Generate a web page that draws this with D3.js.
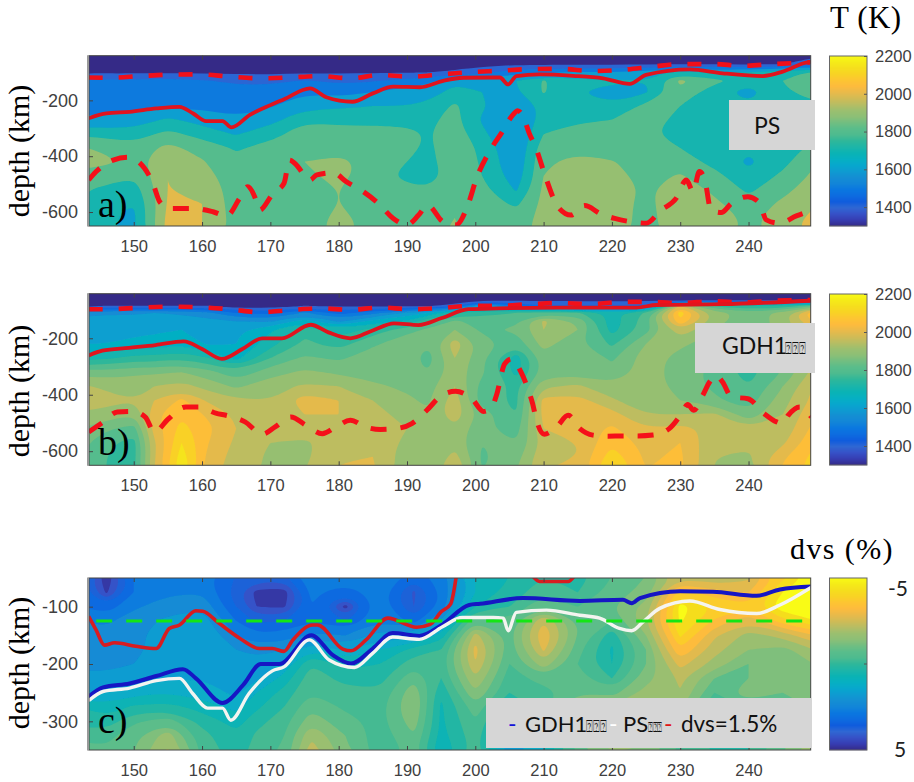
<!DOCTYPE html>
<html><head><meta charset="utf-8">
<script src="https://cdn.jsdelivr.net/npm/d3@7"></script>
<style>html,body{margin:0;background:#fff}svg{display:block}</style></head>
<body><svg id="c" width="914" height="782"></svg>
<script>
// parula colormap stops
const parula=["#352a87","#363db2","#3651c7","#2f67d3","#0f5cdd","#0d6ce0","#0a77e0","#1285d8","#148ed3","#0e9bd1","#07a7cd","#06b0c2","#0ab3b4","#1db5a8","#2eb79a","#4dbb8f","#59bd8b","#71be81","#8cbf76","#9bbf6f","#b7bd63","#d1bb55","#e9ba4a","#fdbb3d","#fdc532","#f8d324","#f5de1d","#f5eb18","#f9fb15"];

const xTicks=[150,160,170,180,190,200,210,220,230,240];
const yTicksT=[200,400,600];
const yTicksV=[100,200,300];
const barTicksT=[1400,1600,1800,2000,2200];

const lonsA=[142,146,150,155,160,165,170,175,180,185,190,193,197,201,206,210,215,220,225,230,235,240,245,251];
const depthsA=[30,70,100,130,170,220,270,320,370,420,470,520,570,620,670];
const tempA=[
[1300,1340,1385,1530,1570,1580,1610,1790,1910,1930,1880,1810,1800,1790,1790],
[1300,1340,1385,1520,1560,1570,1620,1760,1880,1920,1840,1780,1730,1710,1710],
[1300,1340,1385,1520,1560,1570,1640,1750,1840,1860,1810,1750,1700,1680,1690],
[1300,1340,1385,1540,1570,1580,1720,1830,1930,1970,2000,2000,2010,2030,2040],
[1300,1340,1385,1510,1550,1580,1660,1760,1860,1910,1950,1990,2000,2000,2000],
[1300,1340,1380,1480,1540,1570,1610,1690,1790,1820,1830,1840,1850,1860,1860],
[1300,1340,1380,1470,1560,1590,1660,1770,1830,1840,1850,1850,1860,1860,1860],
[1300,1340,1385,1510,1590,1660,1790,1840,1890,1900,1880,1860,1850,1840,1840],
[1300,1340,1390,1480,1560,1680,1780,1830,1870,1920,1930,1900,1900,1930,1940],
[1300,1340,1390,1490,1600,1700,1780,1830,1860,1870,1850,1850,1850,1860,1860],
[1300,1340,1395,1540,1640,1700,1760,1840,1850,1800,1770,1830,1860,1860,1860],
[1300,1340,1400,1570,1670,1720,1780,1790,1770,1750,1730,1820,1850,1870,1880],
[1320,1350,1420,1690,1720,1820,1830,1860,1890,1900,1880,1860,1880,1900,1910],
[1320,1360,1480,1680,1700,1710,1690,1720,1770,1780,1800,1830,1850,1850,1860],
[1340,1380,1560,1700,1690,1640,1600,1600,1610,1620,1640,1690,1780,1850,1870],
[1340,1380,1580,1810,1810,1720,1740,1800,1860,1890,1900,1920,1930,1930,1930],
[1350,1380,1620,1720,1700,1800,1790,1830,1880,1920,1900,1910,1930,1950,1950],
[1340,1385,1600,1720,1660,1710,1800,1840,1830,1910,1930,1960,1950,1960,1960],
[1320,1385,1650,1700,1690,1830,1850,1830,1830,1830,1870,1880,1870,1860,1850],
[1320,1390,1750,1920,1880,1800,1770,1740,1800,1850,1910,1960,1980,1980,1980],
[1320,1390,1700,1830,1740,1750,1720,1710,1720,1770,1830,1880,1920,1970,1980],
[1320,1385,1700,1750,1660,1720,1730,1730,1720,1680,1730,1780,1840,1870,1870],
[1330,1395,1780,1800,1780,1770,1750,1740,1750,1770,1820,1870,1920,1950,1960],
[1380,1480,1820,1900,1880,1790,1780,1800,1850,1920,1950,1980,2010,2050,2060]];

const lonsB=[142,146,150,153,157,161,165,170,175,180,185,190,193,197,201,206,210,215,220,225,230,235,240,245,251];
const depthsB=[35,65,85,110,140,170,220,270,320,370,420,470,520,570,620,670];
const tempB=[
[1300,1340,1390,1580,1620,1640,1650,1730,1880,1960,2010,1940,1900,1870,1860,1860],
[1300,1340,1400,1590,1630,1640,1650,1740,1870,1940,1970,1930,1860,1810,1800,1800],
[1300,1340,1400,1590,1630,1640,1660,1770,1890,1930,1950,1900,1830,1780,1780,1790],
[1300,1340,1400,1600,1630,1640,1670,1770,1890,1950,2000,2040,2020,1990,1990,2000],
[1300,1340,1400,1590,1630,1650,1690,1790,1900,1970,2060,2090,2120,2150,2180,2195],
[1300,1340,1400,1560,1620,1640,1640,1750,1870,1930,1990,2040,2060,2050,2030,2020],
[1300,1340,1360,1500,1600,1640,1650,1680,1810,1890,1960,1990,2000,1990,1980,1980],
[1300,1340,1370,1480,1590,1690,1730,1800,1880,1930,1950,1980,1980,1950,1940,1940],
[1300,1340,1400,1560,1680,1790,1810,1860,1910,1960,2030,2000,1980,1940,1940,1950],
[1300,1340,1390,1480,1590,1720,1780,1840,1890,1950,2000,2000,1990,1980,1990,2010],
[1300,1340,1390,1530,1670,1770,1840,1880,1880,1910,1950,1960,1970,1980,2000,2010],
[1300,1340,1380,1610,1710,1830,1890,1880,1880,1890,1910,1940,1950,1940,1920,1920],
[1300,1340,1390,1650,1790,1860,1860,1820,1850,1880,1890,1910,1930,1920,1900,1900],
[1310,1350,1430,1750,1860,1900,1980,1950,1930,1950,1980,1980,1940,1930,1970,2010],
[1320,1390,1640,1780,1830,1840,1880,1860,1860,1830,1820,1880,1860,1850,1840,1850],
[1320,1390,1500,1800,1840,1860,1820,1720,1730,1790,1790,1800,1830,1850,1880,1900],
[1330,1390,1450,1830,1960,1950,1920,1880,1870,1940,2020,2020,2000,1970,1990,2000],
[1330,1390,1450,1810,1890,1900,1860,1900,1880,1960,2020,2030,2020,2000,2000,2010],
[1330,1390,1450,1730,1720,1730,1790,1840,1870,1910,1960,2020,2060,2090,2130,2170],
[1330,1390,1450,1810,1830,1830,1900,1930,1920,1930,1910,1950,2000,2030,2040,2050],
[1340,1395,2000,2130,2090,1990,1910,1880,1880,1880,1900,1950,2020,2050,2060,2060],
[1340,1395,1790,1930,1920,1900,1880,1850,1830,1840,1860,1960,1980,1960,1950,1950],
[1340,1395,1750,1870,1870,1860,1840,1770,1780,1800,1820,1870,1950,1960,1940,1930],
[1340,1395,1750,1920,1920,1920,1880,1860,1850,1900,1930,1950,1960,1990,2040,2060],
[1340,1395,1900,2180,2100,2030,1950,1980,2000,2040,2040,2070,2100,2120,2140,2150]];

const lonsC=[142,146,150,155,160,165,168,172,176,181,186,191,195,200,205,210,215,220,225,230,235,240,245,251];
const depthsC=[45,75,100,125,150,175,200,225,250,275,300,325,360];
const dvsC=[
[3,3,3,2.5,2.3,2.2,2.1,1.9,1.5,0.5,0.2,-0.3,-1],
[5,4.6,3.3,2.6,2.3,2.2,2.1,1.9,1.5,0.8,0.3,-0.3,-0.7],
[3,3,2.6,2.2,2.1,2.1,2,1.7,1.2,0.4,-0.4,-0.9,-1],
[2.8,2.6,2.2,1.9,1.8,1.8,1.8,1.6,1,0.3,-0.8,-1.8,-2.2],
[2.8,2.5,2.1,1.7,1.5,1.5,1.5,1.5,1.3,0.7,0.2,-0.2,-0.4],
[3.5,3.8,3.5,3,2.5,2,1.9,1.8,1.6,1.2,0.7,0.4,0.3],
[3.5,4.7,4.5,3.6,2.9,2.2,1.8,1.6,1,0.6,0.2,-0.1,-0.3],
[3.5,4.8,4.6,3.5,2.8,2,1.4,0.8,0.3,0,-0.3,-0.5,-0.6],
[2.6,2.9,3,3,2.4,1,0,-0.3,-0.5,-0.9,-1.3,-2,-2.3],
[2.5,3.3,4.7,3.5,2.5,1.6,0.7,0.2,-0.2,-0.4,-0.7,-1,-1.2],
[2.5,2.7,2.6,2.5,1.8,1,0.5,0.2,-0.1,-0.3,-0.3,-0.2,-0.2],
[3.2,4.1,4,3.2,1.8,0.3,-0.3,-0.9,-1.4,-1.5,-1.3,-1,-0.6],
[2.8,2.9,2.8,1.9,0.8,0,-0.2,0,0.4,0.6,0.6,0.7,1],
[1,1,0.5,-1,-2.2,-2.7,-2.5,-2,-1.5,-0.8,-0.5,-0.3,-0.2],
[0.5,0.3,0,-0.6,-0.8,-0.7,-0.5,-0.2,0,0.6,1.2,1.7,1.9],
[0,-0.3,-1,-2.5,-3,-2.6,-1.8,-0.8,-0.2,-0.3,0.3,0.8,1.2],
[0.3,0,-0.5,-1,-1,-0.7,-0.5,-0.7,-1,-1.5,-1.6,-1,-0.5],
[-0.5,-0.7,-1,-0.5,0.3,0.6,0.5,0,-0.8,-1.6,-2,-2,-1.5],
[-1,-1.2,-1.7,-2,-1.5,-1,-1,-1.3,-1.7,-2,-2,-1.7,-1.2],
[-2.2,-3.8,-4.7,-4.6,-4.1,-3.5,-2.7,-2.1,-2,-1.6,-1,-0.5,-0.3],
[-1.8,-3.2,-4,-3.4,-2.6,-2.2,-1.8,-1,-0.5,0,0.4,0.3,0],
[-2.2,-3,-3.6,-2.6,-1.8,-1.5,-1,-1,-1.4,-0.6,-0.2,0,0],
[-3.8,-4.5,-4.9,-3.8,-2.2,-1.3,-1.2,-1.3,-1,-0.5,-0.3,-0.8,-1],
[-5,-5,-5,-4.6,-3.2,-2.2,-1.6,-1.4,-1.3,-1.3,-1.5,-2,-2.2]];

const solidA=[[143.4,264],[146,247],[149.4,241],[153.3,229],[156.7,223],[158.7,247],[160.6,274],[163,274],[164.3,297],[167,252],[170,217],[172,196],[175.8,157],[178.2,189],[182,205],[185,175],[188,151],[191.9,153],[195.3,130],[198.2,119],[202.1,118],[203.6,118],[204.8,143],[206,113],[209.4,107],[214.3,112],[218.7,121],[222.6,141],[225,109],[231.4,89],[236.2,103],[242.1,113],[245,97],[248.4,65],[249.2,62]];
const dashTopA=[[143.4,118],[146.5,119],[151,113],[155.3,108],[159.7,107],[164,115],[168.4,121],[172.8,118],[177.2,113],[181.9,121],[186,109],[190.4,115],[195,107],[199.2,99],[203.6,94],[208,88],[212.6,87],[217,95],[221.4,91],[226,79],[230.1,70],[234.8,70],[239.2,76],[243.6,70],[249,64]];
const dashLowA=[[143.4,485],[144.5,455],[147,414],[149.2,404],[151.6,444],[152.8,497],[153.8,563],[155.3,587],[158.7,587],[161.6,599],[163.6,614],[165.5,551],[166.7,509],[167.9,557],[168.4,593],[170.4,533],[172,497],[172.8,414],[173.6,426],[175.8,485],[176.8,467],[179.2,459],[181.1,491],[183.6,527],[185.8,569],[188,623],[190,646],[191.7,611],[193,575],[195.3,635],[197.2,646],[199,569],[200.1,485],[202.5,366],[203.8,318],[205.5,252],[206.2,237],[207,258],[207.9,318],[208.9,372],[210.1,461],[212.1,581],[214,611],[216,577],[218.4,607],[220.4,623],[222.8,635],[225,640],[227.2,593],[229.4,551],[230.9,485],[231.9,527],[232.8,455],[233.6,485],[234.5,593],[236,602],[237.5,569],[239.9,545],[241.6,567],[242.6,628],[244.5,640],[247,614],[249.2,595]];

const solidB=[[143.4,261],[145.4,244],[149.3,234],[153.2,224],[157.3,211],[160,238],[162.9,273],[165.9,238],[168.8,200],[171.7,200],[175.9,152],[178.5,179],[181.7,200],[184.9,173],[188.1,147],[191.7,153],[195.1,128],[199,97],[203.4,94],[211.9,91],[223.6,91],[226.5,82],[236.2,79],[249.2,67]];
const dashTopB=[[143.4,97],[145.9,97],[150.7,92],[155,88],[159.5,90],[164.1,97],[168.5,108],[172.9,100],[177.3,94],[181.7,99],[186.1,91],[190.5,97],[194.9,93],[199.3,85],[203.6,85],[208,79],[212.3,75],[217,79],[221.4,71],[226,71],[230.1,75],[234.8,69],[239.2,73],[243.6,67],[249.2,64]];
const dashLowB=[[143.4,532],[145.4,499],[147.6,461],[149.8,459],[151.7,479],[153,532],[155.1,485],[157.6,443],[159.5,443],[162,465],[163.9,475],[166.3,496],[168.8,540],[170.7,514],[173,479],[175.2,508],[177.6,538],[179.6,514],[181.7,490],[183.9,514],[186.1,523],[188.3,520],[190.7,502],[192.9,455],[195.1,402],[197.1,388],[199.5,414],[201.2,459],[202.3,449],[203.1,402],[204.3,291],[205.3,273],[206.7,320],[207.7,379],[208.4,432],[208.9,485],[210.1,540],[211.9,514],[213.6,473],[215.3,520],[217.2,543],[219.4,547],[221.6,546],[223.8,546],[226,543],[228.4,520],[230.2,467],[231.1,435],[232,455],[233.3,402],[234.3,355],[235.3,332],[236.2,355],[237.5,408],[239.9,414],[242.3,467],[244.1,496],[245,502],[245.8,473],[247.5,443],[249.2,479]];

const blueC=[[143.4,257],[145.5,241],[149.4,234],[153.3,221],[157.2,209],[159.1,225],[163,268],[166,237],[168.6,200],[171.3,200],[176,150],[179.1,184],[181.8,199],[185,173],[187.9,146],[191.8,151],[195.2,131],[199.1,97],[200.7,95],[207,85],[215.3,90],[221.6,88],[222.9,94],[224.1,85],[230,73],[234.8,74],[241.2,81],[244.6,70],[249.2,65]];
const whiteC=[[143.4,264],[145.5,248],[149.4,242],[153.3,229],[156.7,225],[158.6,251],[160.8,277],[163,277],[164.2,298],[166.9,251],[170.3,212],[172,205],[175.7,158],[178.6,193],[182.3,206],[185,181],[187.9,153],[191.8,157],[195.2,135],[198.1,119],[202.6,119],[204.1,120],[204.8,142],[206,110],[210.4,106],[215.3,115],[218.2,120],[221.1,138],[222.9,142],[224.6,126],[227,103],[231.4,90],[235.8,105],[241.2,112],[244.6,97],[249.2,66]];
const redC1=[[143.4,117],[144.5,141],[145.7,167],[147.2,163],[150.3,169],[153.3,173],[155.2,138],[156.7,132],[159.1,107],[160.1,108],[162.5,129],[165.5,155],[168.4,173],[170.3,173],[172,178],[173.3,158],[176.2,132],[176.9,132],[180.6,174],[181.8,177],[184,158],[187.2,120],[191.4,136],[193.4,131],[195,109],[196.4,95],[197.2,48]];
const redC2=[[208.5,48],[209.4,56],[213.6,56],[214.4,48]];
const greenC=[[144.5,125],[249.2,125]];

const svg=d3.select("#c");
const defs=svg.append("defs");
defs.append("filter").attr("id","soft").append("feGaussianBlur").attr("stdDeviation",0.7);
const mix=d3.scaleLinear().domain(parula.map((_,i)=>i/(parula.length-1))).range(parula).interpolate(d3.interpolateRgb);
const tempFrac=d3.scaleLinear().domain([1300,2200]).range([0,1]);
const dvsFrac=d3.scaleLinear().domain([5,-5]).range([0,1]);
const x=d3.scaleLinear().domain([143.45,249.1]).range([89,810.7]);
const axisColor="#444";

function panel(id,top,bottom,yDomain,yTicks,lons,depths,cols,thresholds,bandColor,baseColor){
  const y=d3.scaleLinear().domain(yDomain).range([top,bottom]);
  defs.append("clipPath").attr("id",id).append("rect").attr("x",89).attr("y",top).attr("width",721.7).attr("height",bottom-top);
  const g=svg.append("g").attr("clip-path",`url(#${id})`);
  const n=lons.length,m=depths.length;
  const flat=[];
  for(let j=0;j<m;j++)for(let i=0;i<n;i++)flat.push(cols[i][j]);
  const gx=d3.scaleLinear().domain(lons.map((_,i)=>i+.5)).range(lons);
  const gy=d3.scaleLinear().domain(depths.map((_,i)=>i+.5)).range(depths);
  const ring=d3.line().x(p=>x(gx(p[0]))).y(p=>y(gy(p[1]))).curve(d3.curveBasisClosed);
  const fills=g.append("g").attr("filter","url(#soft)");
  fills.append("rect").attr("x",80).attr("y",top-10).attr("width",740).attr("height",bottom-top+20).attr("fill",baseColor);
  const cs=d3.contours().size([n,m]).thresholds(thresholds)(flat);
  fills.selectAll("path").data(cs).join("path")
    .attr("fill-rule","evenodd")
    .attr("fill",d=>bandColor(d.value))
    .attr("d",d=>d.coordinates.map(poly=>poly.map(r=>ring(r.slice(0,-1))).join("")).join(""));
  const lineGen=d3.line().x(p=>x(p[0])).y(p=>y(p[1])).curve(d3.curveMonotoneX);
  const draw=(data,color,w,dash)=>g.append("path").attr("d",lineGen(data)).attr("fill","none")
    .attr("stroke",color).attr("stroke-width",w).attr("stroke-dasharray",dash||null).attr("stroke-linejoin","round");
  svg.append("rect").attr("x",89).attr("y",top).attr("width",721.7).attr("height",bottom-top).attr("fill","none").attr("stroke",axisColor).attr("stroke-width",1);
  svg.append("line").attr("x1",88).attr("x2",88).attr("y1",top-.5).attr("y2",bottom+.5).attr("stroke","#999").attr("stroke-width",2);
  const bx=svg.append("g").attr("transform",`translate(0,${bottom})`).call(d3.axisBottom(x).tickValues(xTicks).tickSize(-4).tickPadding(14).tickSizeOuter(0));
  const tx=svg.append("g").attr("transform",`translate(0,${top})`).call(d3.axisTop(x).tickValues(xTicks).tickSize(-4).tickSizeOuter(0).tickFormat(""));
  const ly=svg.append("g").attr("transform","translate(89,0)").call(d3.axisLeft(y).tickValues(yTicks).tickSize(-4).tickPadding(11).tickSizeOuter(0).tickFormat(d=>"-"+d));
  for(const a of [bx,tx,ly]){a.select(".domain").remove();a.selectAll("line").attr("stroke",axisColor);a.selectAll("text").attr("fill","#404040").style("font","16.5px 'Liberation Sans'");}
  ly.selectAll("text").style("font","18px 'Liberation Sans'");
  return draw;
}

function colorbar(top,bottom,scale,frac){
  const steps=d3.range(top,bottom);
  svg.append("g").selectAll("rect").data(steps).join("rect")
    .attr("x",829.5).attr("width",37.5).attr("y",d=>d).attr("height",1.2)
    .attr("fill",d=>mix(frac(scale.invert(d+.5))));
  svg.append("rect").attr("x",829.5).attr("y",top).attr("width",37.5).attr("height",bottom-top).attr("fill","none").attr("stroke","#666");
}

// panel a
const drawA=panel("pa",55.7,226,[40,650],yTicksT,lonsA,depthsA,tempA,d3.range(1400,2200,100),v=>mix(tempFrac(v)),mix(0));
drawA(dashTopA,"#f0101a",4.6,"14 16");
drawA(solidA,"#e0141e",3.8);
drawA(dashLowA,"#f5101a",5,"16 14");
// panel b
const drawB=panel("pb",293.7,465.3,[42,650],yTicksT,lonsB,depthsB,tempB,d3.range(1400,2200,50),v=>mix(tempFrac(v)),mix(0));
drawB(dashTopB,"#f0101a",4.6,"14 16");
drawB(solidB,"#e0141e",3.8);
drawB(dashLowB,"#f5101a",5,"16 14");
// panel c
const drawC=panel("pc",578,750,[50,350],yTicksV,lonsC,depthsC,dvsC,d3.range(-4.5,5,.5),v=>mix(dvsFrac(v+.25)),mix(1));
drawC(redC1,"#d81c20",3.6);
drawC(redC2,"#d81c20",3.6);
drawC(blueC,"#1616c4",4);
drawC(whiteC,"#f4f4f0",3.4);
drawC(greenC,"#14e614",3,"16 14");

// colour bars
const barA=d3.scaleLinear().domain([2200,1300]).range([56,226]);
colorbar(56,226,barA,tempFrac);
const barB=d3.scaleLinear().domain([2200,1300]).range([294,465]);
colorbar(294,465,barB,tempFrac);
const barC=d3.scaleLinear().domain([-5,5]).range([578,750]);
colorbar(578,750,barC,dvsFrac);
for(const b of [barA,barB]){
  const a=svg.append("g").attr("transform","translate(867,0)").call(d3.axisRight(b).tickValues(barTicksT).tickSize(-3).tickPadding(8).tickSizeOuter(0).tickFormat(d3.format("d")));
  a.select(".domain").remove();a.selectAll("line").attr("stroke","#555");
  a.selectAll("text").attr("fill","#404040").style("font","16.5px 'Liberation Sans'");
}
svg.append("line").attr("x1",864).attr("x2",867).attr("y1",barC(0)).attr("y2",barC(0)).attr("stroke","#555");

function txt(s,x0,y0,font,fill,extra){
  const t=svg.append("text").attr("x",x0).attr("y",y0).attr("fill",fill||"#000").style("font",font).text(s);
  if(extra)extra(t);return t;
}
const serif="'Liberation Serif'";
const rot=(cy)=>t=>t.attr("transform",`rotate(-90 29 ${cy})`).attr("x",29).attr("y",cy).attr("text-anchor","middle");
txt("depth (km)",0,0,`30px ${serif}`,"#000",rot(151));
txt("depth (km)",0,0,`30px ${serif}`,"#000",rot(391));
txt("depth (km)",0,0,`30px ${serif}`,"#000",rot(663));
txt("a)",98,217,`38px ${serif}`);
txt("b)",98,455,`38px ${serif}`);
txt("c)",98,733,`38px ${serif}`);
txt("T (K)",830,28,`31px ${serif}`,"#000",t=>t.attr("letter-spacing",.5));
txt("dvs (%)",790,559,`30px ${serif}`,"#000",t=>t.attr("letter-spacing",1.4));
txt("-5",888,596,"21px Lato","#222");
txt("5",894,757,"21px Lato","#222");

// grey labels
const grey="#d6d6d6";
const box=(x0,y0,x1,y1)=>svg.append("rect").attr("x",x0).attr("y",y0).attr("width",x1-x0).attr("height",y1-y0).attr("fill",grey);
const tofu="\u2370\u2370\u2370";
const squeezed=(s,x0,y0,w,size)=>svg.append("text").attr("x",x0).attr("y",y0).attr("textLength",w).attr("lengthAdjust","spacingAndGlyphs").style("font",`${size}px 'DejaVu Sans'`).attr("fill","#111").text(s);
box(729,100,815,150);
txt("PS",754,134,"23px Lato","#111");
box(695,323,815,373);
txt("GDH1",722,354,"23px Lato","#111");
squeezed(tofu,785,354,21,16);
box(486,698,812,748);
txt("-",508,732,"23px Lato","#1414d8");
txt("GDH1",525,732,"22px Lato","#111");
squeezed(tofu,586,732,21,16);
txt("-",609,732,"23px Lato","#fff");
txt("PS",623,732,"22px Lato","#111");
squeezed(tofu,648,732,14,14);
txt("-",664,732,"23px Lato","#e01414");
txt("dvs=1.5%",681,732,"22.5px Lato","#111");
</script></body></html>
